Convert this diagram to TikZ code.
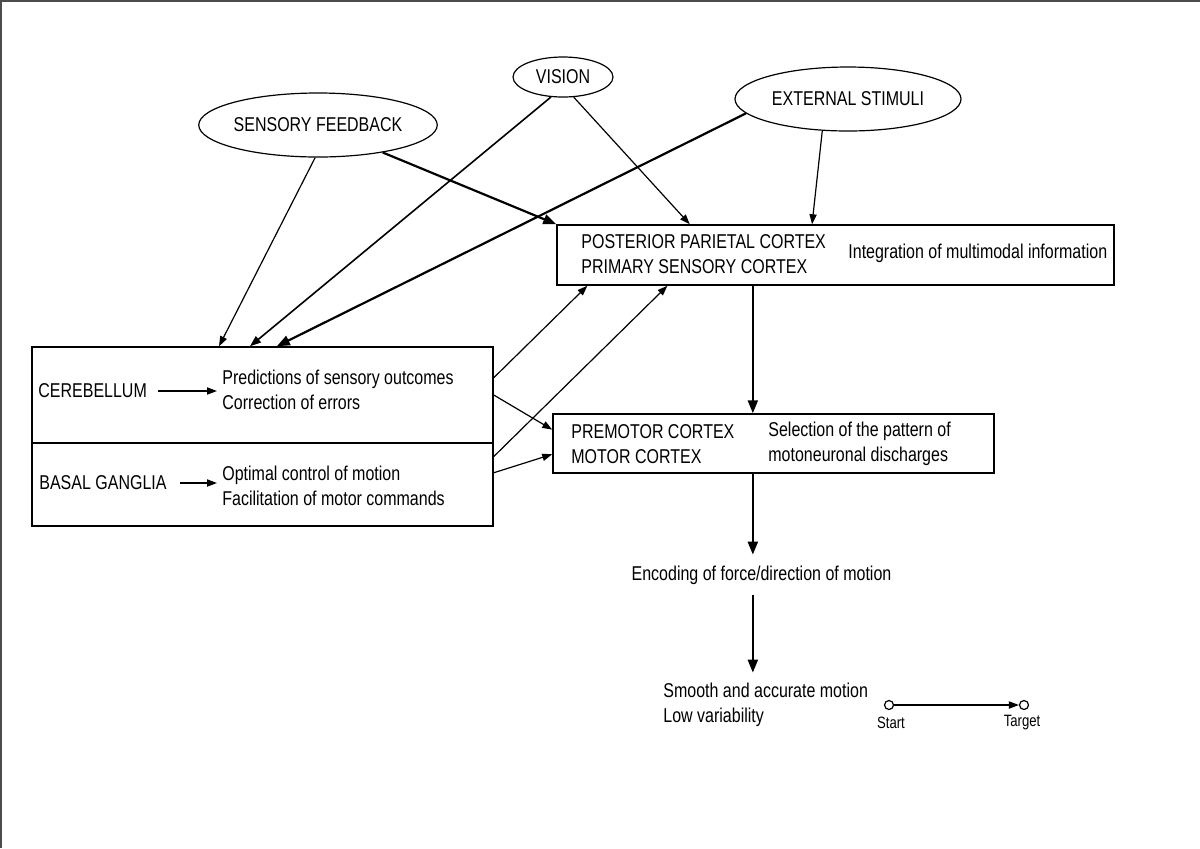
\documentclass[tikz,border=0pt]{standalone}
\usepackage{fontspec}
\setmainfont[FakeStretch=0.8]{Liberation Sans}
\usetikzlibrary{arrows.meta,shapes.geometric,calc}
\begin{document}
\begin{tikzpicture}[x=0.5pt,y=-0.5pt,
  txt/.style={inner sep=0pt, font=\fontsize{10pt}{12.5pt}\selectfont, align=left, anchor=west},
  ell/.style={ellipse, draw, line width=0.6pt, inner sep=0pt, minimum width=113pt, minimum height=32pt, font=\fontsize{10pt}{12.5pt}\selectfont},
  box/.style={draw, line width=0.75pt, inner sep=0pt},
  tarrow/.style={line width=0.6pt, -{Triangle[length=5pt,width=3.6pt]}},
  marrow/.style={line width=0.8pt, -{Triangle[length=5.5pt,width=4pt]}},
  barrow/.style={line width=1.1pt, -{Triangle[length=6.5pt,width=5pt]}},
  small/.style={inner sep=0pt, font=\fontsize{8.2pt}{10pt}\selectfont},
  dot/.style={circle, draw, line width=0.6pt, minimum size=4.5pt, inner sep=0pt}
]
\useasboundingbox (0,0) rectangle (1200,848);
\draw[line width=2pt, black!70] (0,848) -- (0,0) -- (1200,0);

% ellipses
\node[ell] (sf) at (318,125) {SENSORY FEEDBACK};
\node[ell, minimum width=50pt, minimum height=20pt] (vis) at (563,77) {VISION};
\node[ell] (es) at (848,99) {EXTERNAL STIMULI};

% PPC box
\node[box, minimum width=278.5pt, minimum height=30pt] (ppc) at (835.5,255) {};
\node[txt] (ppct) at (581,254.5) {POSTERIOR PARIETAL CORTEX\\PRIMARY SENSORY CORTEX};
\node[txt] (integ) at (848,253) {Integration of multimodal information};

% premotor box
\node[box, minimum width=220.5pt, minimum height=29.5pt] (pm) at (773.5,443.5) {};
\node[txt] (pmt) at (571,444.5) {PREMOTOR CORTEX\\MOTOR CORTEX};
\node[txt] (sel) at (768,443.5) {Selection of the pattern of\\motoneuronal discharges};

% cerebellum / basal ganglia
\node[box, minimum width=230.5pt, minimum height=48pt] (cb) at (262.5,395) {};
\node[box, minimum width=230.5pt, minimum height=41.5pt] (bg) at (262.5,484.5) {};
\node[txt] (cbt) at (38,391) {CEREBELLUM};
\node[txt] (cbf) at (222,389.5) {Predictions of sensory outcomes\\Correction of errors};
\node[txt] (bgt) at (39,483) {BASAL GANGLIA};
\node[txt] (bgf) at (222,485.5) {Optimal control of motion\\Facilitation of motor commands};
\draw[tarrow, shorten <=5.5pt, shorten >=2.5pt] (cbt.east) -- (cbf.west |- cbt.east);
\draw[tarrow, shorten <=6.5pt, shorten >=2.5pt] (bgt.east) -- (bgf.west |- bgt.east);

% output chain
\node[txt, anchor=center, minimum height=20pt] (enc) at (761.5,575) {Encoding of force/direction of motion};
\node[txt, minimum height=32pt] (sm) at (663,705) {Smooth and accurate motion\\Low variability};
\coordinate (ax) at ($(ppc.south west)!0.352!(ppc.south east)$);
\draw[barrow] (ax) -- (ax |- pm.north);
\draw[barrow] (ax |- pm.south) -- (ax |- enc.north);
\draw[barrow] (ax |- enc.south) -- (ax |- sm.north);

% start / target
\node[dot] (st) at (889,705) {};
\node[dot] (tg) at (1024,705) {};
\draw[tarrow] (st) -- (tg);
\node[small] (stl) at (891,723) {Start};
\node[small] (tgl) at (1022,723) {Target};

% inputs
\draw[tarrow] (sf.-95) -- ($(cb.north west)!0.406!(cb.north east)$);
\draw[barrow] (sf.-23) -- (ppc.north west);
\draw[marrow] (vis.-121) -- ($(cb.north west)!0.473!(cb.north east)$);
\draw[tarrow] (vis.-62) -- ($(ppc.north west)!0.239!(ppc.north east)$);
\draw[barrow] (es.-172) -- ($(cb.north west)!0.531!(cb.north east)$);
\draw[tarrow] (es.-129) -- ($(ppc.north west)!0.458!(ppc.north east)$);

% loops
\draw[tarrow] ($(cb.north east)!0.323!(cb.south east)$) -- ($(ppc.south west)!0.0557!(ppc.south east)$);
\draw[tarrow] (cb.east) -- ($(pm.north west)!0.271!(pm.south west)$);
\draw[tarrow] ($(bg.north east)!0.169!(bg.south east)$) -- ($(ppc.south west)!0.199!(ppc.south east)$);
\draw[tarrow] ($(bg.north east)!0.361!(bg.south east)$) -- ($(pm.north west)!0.678!(pm.south west)$);
\end{tikzpicture}
\end{document}
